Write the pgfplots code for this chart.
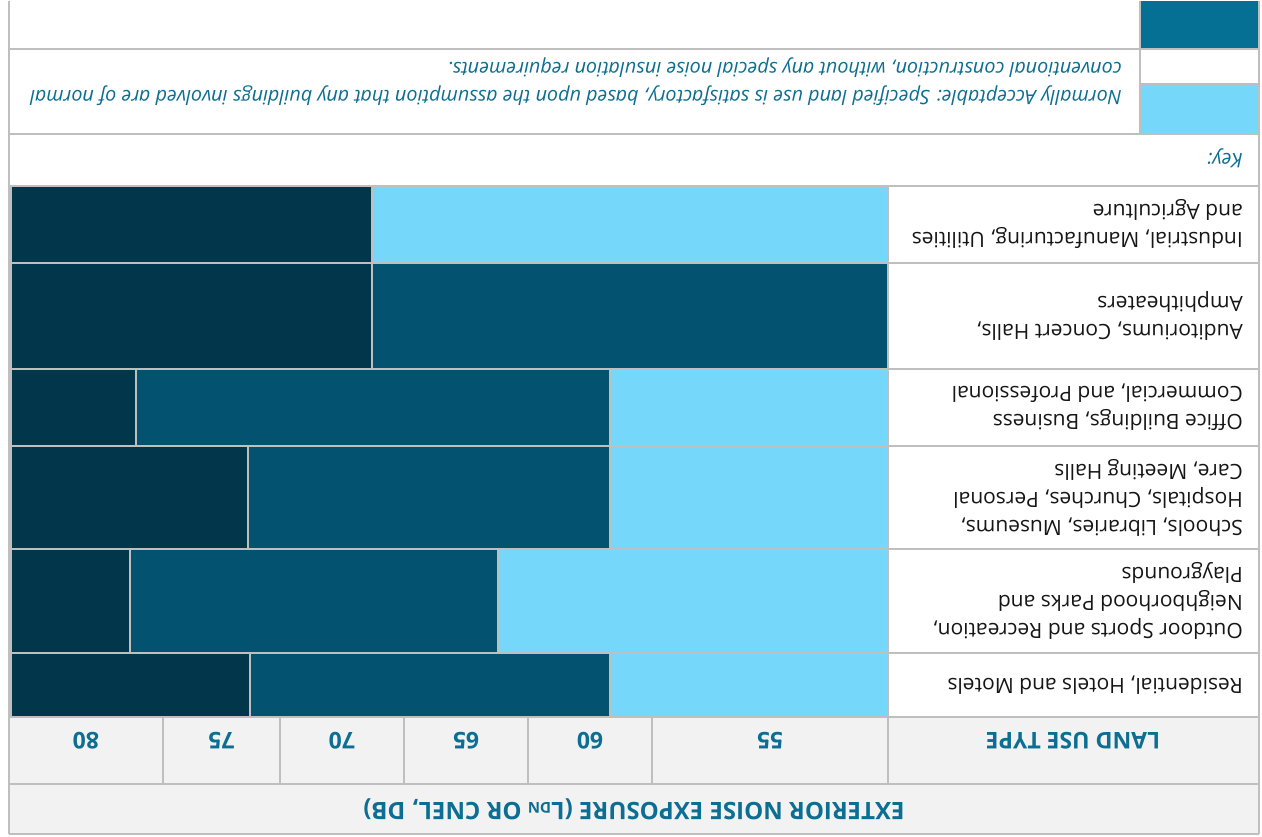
\documentclass[border=0pt]{standalone}
\usepackage{pgfplots}
\pgfplotsset{compat=1.18}
\usepackage{fontspec}
\setmainfont{Open Sans}
\definecolor{clblue}{HTML}{75D7FA}
\definecolor{cteal}{HTML}{03526F}
\definecolor{cnavy}{HTML}{02364B}
\definecolor{ckey}{HTML}{056F94}
\definecolor{chead}{HTML}{F2F2F2}
\definecolor{cgrid}{HTML}{BFBFBF}
\definecolor{ctext}{HTML}{0B6E92}
\definecolor{cbody}{HTML}{161616}
\tikzset{
  lab/.style={rotate=180,inner sep=0pt},
  body/.style={lab,anchor=west,align=left,text=cbody,font=\fontsize{21}{28}\selectfont},
  head/.style={lab,anchor=center,text=ctext,font=\bfseries\fontsize{23}{27}\selectfont}}
\newcommand{\seg}[5]{\addplot[fill=#1,draw=cgrid,line width=1.2pt] coordinates {(#2,#4) (#3,#4) (#3,#5) (#2,#5)} --cycle;}
\newcommand{\hl}[4][1.2pt]{\addplot[draw=cgrid,line width=#1] coordinates {(#2,#4) (#3,#4)};}
\newcommand{\vl}[4][1.2pt]{\addplot[draw=cgrid,line width=#1] coordinates {(#2,#3) (#2,#4)};}
\begin{document}
\begin{tikzpicture}
\begin{axis}[width=1262pt,height=836pt,scale only axis,
  xmin=0,xmax=1262,ymin=0,ymax=836,y dir=reverse,hide axis,clip=false]
% background
\addplot[fill=white,draw=none] coordinates {(0,0) (1262,0) (1262,836) (0,836)} --cycle;
\addplot[fill=chead,draw=none] coordinates {(9,716) (1259,716) (1259,833) (9,833)} --cycle;
% key swatches
\addplot[fill=ckey,draw=none] coordinates {(1140,0) (1259,0) (1259,48) (1140,48)} --cycle;
\addplot[fill=clblue,draw=none] coordinates {(1140,83) (1259,83) (1259,133) (1140,133)} --cycle;
% bars: Industrial
\seg{clblue}{372}{888}{185}{262}
\seg{cnavy}{11}{372}{185}{262}
% Auditoriums
\seg{cteal}{372}{888}{262}{368}
\seg{cnavy}{11}{372}{262}{368}
% Office
\seg{clblue}{610}{888}{368}{445}
\seg{cteal}{136}{610}{368}{445}
\seg{cnavy}{11}{136}{368}{445}
% Schools
\seg{clblue}{610}{888}{445}{548}
\seg{cteal}{248}{610}{445}{548}
\seg{cnavy}{11}{248}{445}{548}
% Outdoor
\seg{clblue}{498}{888}{548}{652}
\seg{cteal}{130}{498}{548}{652}
\seg{cnavy}{11}{130}{548}{652}
% Residential
\seg{clblue}{610}{888}{652}{716}
\seg{cteal}{250}{610}{652}{716}
\seg{cnavy}{11}{250}{652}{716}
% table lines
\hl[2pt]{9}{1259}{48}
\hl[2pt]{9}{1259}{133}
\hl[2pt]{9}{1259}{185}
\hl{888}{1259}{262}
\hl{888}{1259}{368}
\hl{888}{1259}{445}
\hl{888}{1259}{548}
\hl{888}{1259}{652}
\hl[2pt]{9}{1259}{716}
\hl[2pt]{9}{1259}{783}
\hl[2pt]{9}{1259}{833}
\hl[2pt]{1140}{1259}{83}
\vl[2pt]{9}{0}{833}
\vl[2pt]{1259}{0}{833}
\vl[2pt]{1140}{0}{133}
\vl[2pt]{888}{185}{783}
\vl[2pt]{652}{716}{783}
\vl[2pt]{528}{716}{783}
\vl[2pt]{404}{716}{783}
\vl[2pt]{280}{716}{783}
\vl[2pt]{163}{716}{783}
% texts
\node[head,font=\bfseries\fontsize{24}{28}\selectfont] at (axis cs:634,808) {EXTERIOR NOISE EXPOSURE (L{\fontsize{15}{15}\selectfont DN} OR CNEL, DB)};
\node[head] at (axis cs:1073,740) {LAND USE TYPE};
\node[head] at (axis cs:770,740) {55};
\node[head] at (axis cs:590,740) {60};
\node[head] at (axis cs:466,740) {65};
\node[head] at (axis cs:342,740) {70};
\node[head] at (axis cs:221.5,740) {75};
\node[head] at (axis cs:86,740) {80};
\node[body] at (axis cs:1243,684) {Residential, Hotels and Motels};
\node[body] at (axis cs:1243,600) {Outdoor Sports and Recreation,\\Neighborhood Parks and\\Playgrounds};
\node[body] at (axis cs:1243,496.5) {Schools, Libraries, Museums,\\Hospitals, Churches, Personal\\Care, Meeting Halls};
\node[body] at (axis cs:1243,406.5) {Office Buildings, Business\\Commercial, and Professional};
\node[body] at (axis cs:1243,315) {Auditoriums, Concert Halls,\\Amphitheaters};
\node[body] at (axis cs:1243,223.5) {Industrial, Manufacturing, Utilities\\and Agriculture};
\node[lab,anchor=west,text=ctext,font=\itshape\fontsize{20}{28}\selectfont] at (axis cs:1243,157) {Key:};
\node[lab,anchor=west,align=left,text=ctext,font=\itshape\fontsize{19.8}{28}\selectfont] at (axis cs:1122,81) {Normally Acceptable: Specified land use is satisfactory, based upon the assumption that any buildings involved are of normal\\conventional construction, without any special noise insulation requirements.};
\end{axis}
\end{tikzpicture}
\end{document}
